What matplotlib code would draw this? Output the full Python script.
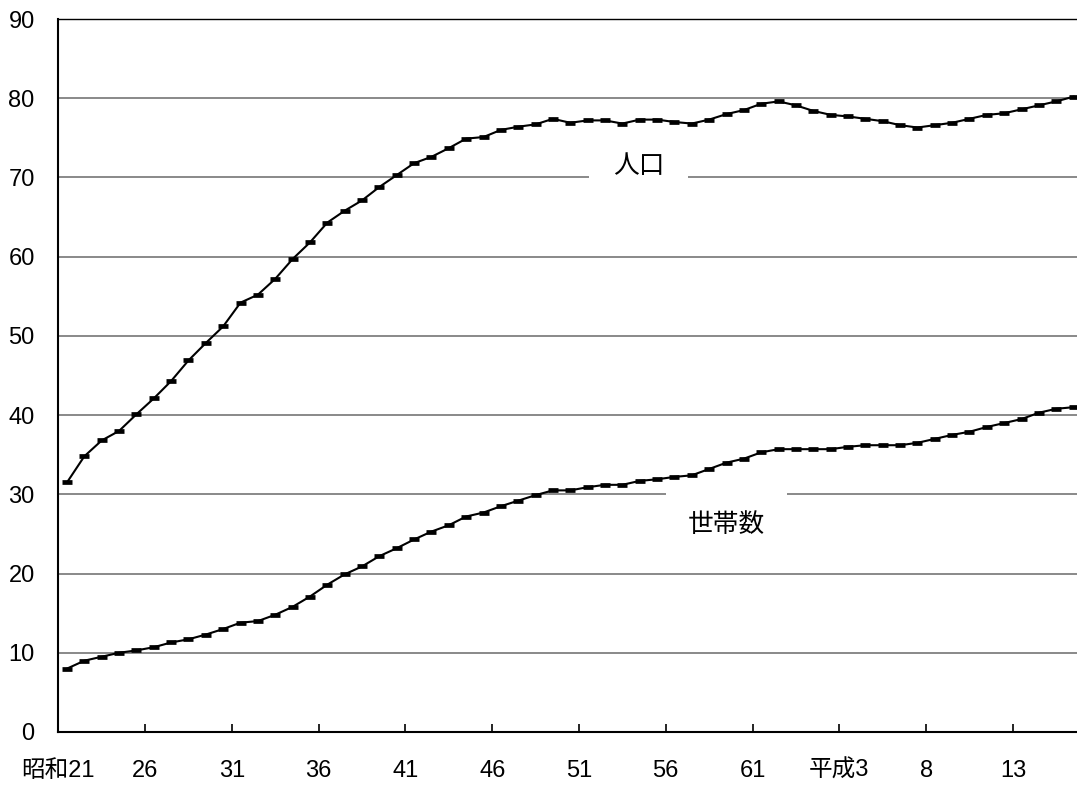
import matplotlib
matplotlib.use('Agg')
import matplotlib.pyplot as plt

plt.rcParams['font.family'] = ['Liberation Sans', 'Noto Sans CJK JP', 'DejaVu Sans']

# 昭和21 (1946) - 平成16 (2004), one value per year
population = [31.5, 34.8, 36.8, 38.0, 40.1, 42.1, 44.3, 46.9, 49.1, 51.2,
              54.2, 55.2, 57.2, 59.7, 61.8, 64.3, 65.8, 67.1, 68.8, 70.3,
              71.8, 72.6, 73.7, 74.9, 75.1, 76.0, 76.4, 76.7, 77.4, 76.9,
              77.2, 77.2, 76.8, 77.3, 77.3, 77.0, 76.8, 77.3, 78.0, 78.5,
              79.3, 79.6, 79.1, 78.4, 77.9, 77.7, 77.4, 77.1, 76.6, 76.3,
              76.6, 76.9, 77.4, 77.9, 78.1, 78.6, 79.1, 79.6, 80.2]
households = [8.0, 9.0, 9.5, 10.0, 10.3, 10.7, 11.3, 11.7, 12.3, 13.0,
              13.8, 14.0, 14.8, 15.8, 17.1, 18.6, 19.9, 20.9, 22.2, 23.2,
              24.3, 25.3, 26.1, 27.2, 27.7, 28.5, 29.2, 29.9, 30.5, 30.5,
              30.9, 31.2, 31.2, 31.7, 31.9, 32.2, 32.4, 33.2, 34.0, 34.5,
              35.3, 35.7, 35.7, 35.7, 35.7, 36.0, 36.2, 36.2, 36.2, 36.5,
              37.0, 37.5, 37.9, 38.5, 39.0, 39.5, 40.3, 40.8, 41.0]
tick_labels = ['昭和21', '26', '31', '36', '41', '46', '51', '56', '61',
               '平成3', '8', '13']

x = [i + 0.5 for i in range(len(population))]

fig = plt.figure(figsize=(10.77, 7.88), dpi=100)
# the right edge of the plot area runs a little past the picture
ax = fig.add_axes([58.3 / 1077, 1 - 732 / 788, 1024 / 1077, 713 / 788])

ax.plot(x, population, color='black', lw=1.5, marker='_', ms=6.5, mew=3.4, zorder=5)
ax.plot(x, households, color='black', lw=1.5, marker='_', ms=6.5, mew=3.4, zorder=5)

ax.set_xlim(0, 59)
ax.set_ylim(0, 90)
ax.set_yticks(range(0, 91, 10))
ax.set_xticks(range(0, 5 * len(tick_labels), 5))
ax.set_xticklabels(tick_labels)

ax.yaxis.grid(True, color='#808080', lw=1.3, zorder=1)
ax.set_axisbelow(True)
ax.tick_params(axis='y', length=0, pad=17, labelsize=17)
ax.tick_params(axis='x', direction='in', length=6, width=1.2, pad=20, labelsize=17)

for side in ['left', 'bottom']:
    ax.spines[side].set_linewidth(1.5)
ax.spines['top'].set_linewidth(1.0)
ax.spines['right'].set_visible(False)

# series names sit on white boxes over the gridlines
ax.text(33.45, 71.45, '人口', fontsize=18.5, ha='center', va='center', zorder=3,
        bbox=dict(boxstyle='square,pad=0.92', facecolor='white', edgecolor='none'))
ax.text(38.5, 26.1, '世帯数', fontsize=18.5, ha='center', va='center', zorder=3,
        bbox=dict(boxstyle='square,pad=0.85', facecolor='white', edgecolor='none'))

fig.savefig('out.png', dpi=100)
